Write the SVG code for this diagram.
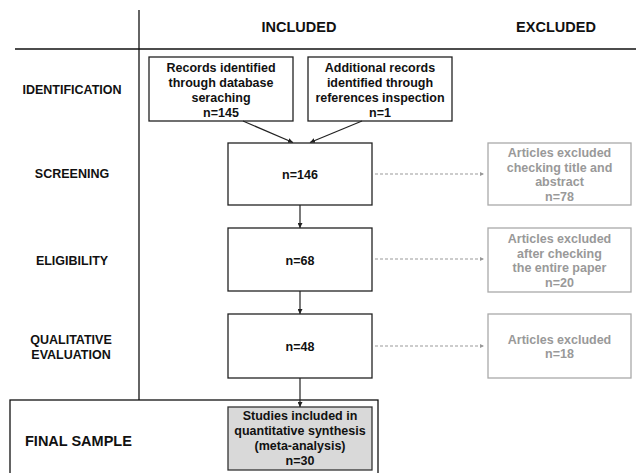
<svg xmlns="http://www.w3.org/2000/svg" width="636" height="473" viewBox="0 0 636 473">
<style>
text{font-family:"Liberation Sans",Arial,sans-serif;font-weight:bold;text-anchor:middle}
.lab{font-size:12.5px;fill:#111}
.hdr{font-size:14.5px;fill:#111}
.bt{font-size:12.5px;fill:#111}
.gt{font-size:12.5px;fill:#999}
.box{fill:#fff;stroke:#222;stroke-width:1.3}
.gbox{fill:#fff;stroke:#aaa;stroke-width:1.3}
.fbox{fill:#d9d9d9;stroke:#333;stroke-width:1.3}
.grid{stroke:#111;stroke-width:1.3;fill:none}
.ln{stroke:#222;stroke-width:1.2;fill:none}
.dl{stroke:#999;stroke-width:1.2;stroke-dasharray:3 2;fill:none}
</style>
<defs>
<marker id="ah" viewBox="0 0 6 6" refX="6" refY="3" markerWidth="5" markerHeight="5" orient="auto" markerUnits="userSpaceOnUse"><path d="M0,0 L6,3 L0,6 z" fill="#222"/></marker>
<marker id="ag" viewBox="0 0 6 6" refX="6" refY="3" markerWidth="4" markerHeight="4" orient="auto" markerUnits="userSpaceOnUse"><path d="M0,0 L6,3 L0,6 z" fill="#999"/></marker>
</defs>
<g id="grid">
<line class="grid" x1="139" y1="10" x2="139" y2="400"/>
<line class="grid" x1="15" y1="49" x2="636" y2="49"/>
</g>
<g id="headers">
<text class="hdr" x="299" y="32">INCLUDED</text>
<text class="hdr" x="556" y="32">EXCLUDED</text>
</g>
<g id="rowlabels">
<text class="lab" x="72" y="93.5">IDENTIFICATION</text>
<text class="lab" x="72" y="177.5">SCREENING</text>
<text class="lab" x="72" y="264.5">ELIGIBILITY</text>
<text class="lab" x="71" y="343.5">QUALITATIVE</text>
<text class="lab" x="71" y="358.5">EVALUATION</text>
</g>
<g id="final-sample">
<rect class="grid" x="10" y="400" width="368" height="90"/>
<text class="hdr" x="25" y="446" style="text-anchor:start">FINAL SAMPLE</text>
</g>
<g id="records-db">
<rect class="box" x="149" y="57" width="144" height="64"/>
<text class="bt" x="221" y="71.5">Records identified</text>
<text class="bt" x="221" y="86.5">through database</text>
<text class="bt" x="221" y="101.5">seraching</text>
<text class="bt" x="221" y="116.5">n=145</text>
</g>
<g id="records-ref">
<rect class="box" x="308" y="57" width="144" height="64"/>
<text class="bt" x="380" y="71.5">Additional records</text>
<text class="bt" x="380" y="86.5">identified through</text>
<text class="bt" x="380" y="101.5">references inspection</text>
<text class="bt" x="380" y="116.5">n=1</text>
</g>
<g id="screening">
<rect class="box" x="228" y="143" width="144" height="62"/>
<text class="bt" x="300" y="178.5">n=146</text>
</g>
<g id="eligibility">
<rect class="box" x="228" y="228" width="144" height="63"/>
<text class="bt" x="300" y="264.5">n=68</text>
</g>
<g id="qualitative">
<rect class="box" x="228" y="314" width="144" height="64"/>
<text class="bt" x="300" y="350.5">n=48</text>
</g>
<g id="included">
<rect class="fbox" x="228" y="407" width="144" height="63"/>
<text class="bt" x="300" y="419.5">Studies included in</text>
<text class="bt" x="300" y="434.5">quantitative synthesis</text>
<text class="bt" x="300" y="449.5">(meta-analysis)</text>
<text class="bt" x="300" y="464.5">n=30</text>
</g>
<g id="excl-screening">
<rect class="gbox" x="488" y="143" width="143" height="62"/>
<text class="gt" x="559.5" y="156.5">Articles excluded</text>
<text class="gt" x="559.5" y="171.5">checking title and</text>
<text class="gt" x="559.5" y="185.5">abstract</text>
<text class="gt" x="559.5" y="200.5">n=78</text>
</g>
<g id="excl-eligibility">
<rect class="gbox" x="488" y="228" width="143" height="64"/>
<text class="gt" x="559.5" y="242.5">Articles excluded</text>
<text class="gt" x="559.5" y="257.5">after checking</text>
<text class="gt" x="559.5" y="272">the entire paper</text>
<text class="gt" x="559.5" y="287">n=20</text>
</g>
<g id="excl-qualitative">
<rect class="gbox" x="488" y="314" width="143" height="64"/>
<text class="gt" x="559.5" y="343.5">Articles excluded</text>
<text class="gt" x="559.5" y="357.5">n=18</text>
</g>
<g id="connectors">
<line class="ln" x1="243" y1="121" x2="293" y2="142.5" marker-end="url(#ah)"/>
<line class="ln" x1="362" y1="121" x2="310" y2="142.5" marker-end="url(#ah)"/>
<line class="ln" x1="300" y1="205" x2="300" y2="228" marker-end="url(#ah)"/>
<line class="ln" x1="300" y1="291" x2="300" y2="314" marker-end="url(#ah)"/>
<line class="ln" x1="300" y1="378" x2="300" y2="407" marker-end="url(#ah)"/>
<line class="dl" x1="375" y1="174" x2="484" y2="174" marker-end="url(#ag)"/>
<line class="dl" x1="375" y1="259" x2="484" y2="259" marker-end="url(#ag)"/>
<line class="dl" x1="375" y1="346" x2="484" y2="346" marker-end="url(#ag)"/>
</g>
</svg>
